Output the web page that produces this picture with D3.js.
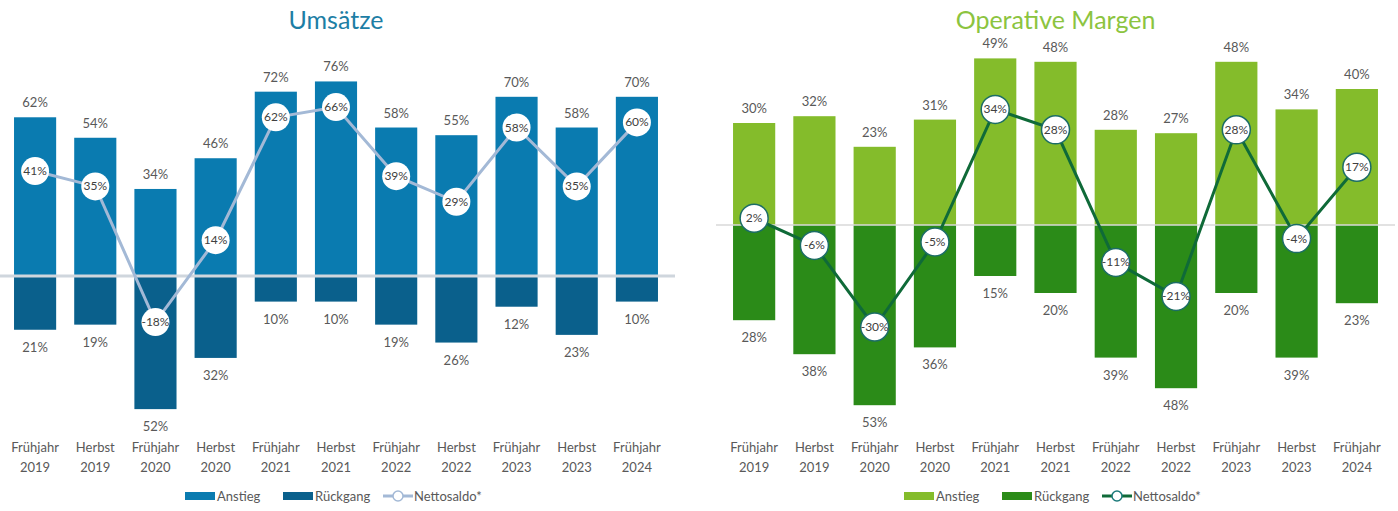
<!DOCTYPE html>
<html>
<head>
<meta charset="utf-8">
<script src="https://cdn.jsdelivr.net/npm/d3@7"></script>
<style>
  body { margin: 0; background: #fff; }
  svg { display: block; font-family: Lato, "Noto Sans", sans-serif; }
</style>
</head>
<body>
<svg id="chart" width="1398" height="511"></svg>
<script>
// periods shown on both charts
var periods = ["Frühjahr 2019", "Herbst 2019", "Frühjahr 2020", "Herbst 2020", "Frühjahr 2021",
  "Herbst 2021", "Frühjahr 2022", "Herbst 2022", "Frühjahr 2023", "Herbst 2023", "Frühjahr 2024"];

// Umsätze
var umsAnstieg = [62, 54, 34, 46, 72, 76, 58, 55, 70, 58, 70];
var umsRueckgang = [21, 19, 52, 32, 10, 10, 19, 26, 12, 23, 10];
var umsSaldo = [41, 35, -18, 14, 62, 66, 39, 29, 58, 35, 60];

// Operative Margen
var marAnstieg = [30, 32, 23, 31, 49, 48, 28, 27, 48, 34, 40];
var marRueckgang = [28, 38, 53, 36, 15, 20, 39, 48, 20, 39, 23];
var marSaldo = [2, -6, -30, -5, 34, 28, -11, -21, 28, -4, 17];

var legendLabels = ["Anstieg", "Rückgang", "Nettosaldo*"];

var svg = d3.select("#chart");

function drawChart(cfg) {
    var g = svg.append("g");

    var x = d3.scaleBand()
        .domain(periods)
        .range([cfg.left, cfg.right])
        .paddingInner(0.3)
        .paddingOuter(0.15);

    var y = d3.scaleLinear()
        .domain([-cfg.maxNeg, cfg.maxPos])
        .range([cfg.zeroY + cfg.pxPer * cfg.maxNeg, cfg.zeroY - cfg.pxPer * cfg.maxPos]);

    // title
    g.append("text")
        .attr("x", (cfg.left + cfg.right) / 2)
        .attr("y", 29)
        .attr("text-anchor", "middle")
        .style("font-size", "25px")
        .style("fill", cfg.titleColor)
        .text(cfg.title);

    // positive bars
    g.selectAll(".pos").data(cfg.up).enter().append("rect")
        .attr("x", function(d, i) { return x(periods[i]); })
        .attr("y", function(d) { return y(d); })
        .attr("width", x.bandwidth())
        .attr("height", function(d) { return y(0) - y(d); })
        .style("fill", cfg.upColor);

    // negative bars
    g.selectAll(".neg").data(cfg.down).enter().append("rect")
        .attr("x", function(d, i) { return x(periods[i]); })
        .attr("y", y(0))
        .attr("width", x.bandwidth())
        .attr("height", function(d) { return y(-d) - y(0); })
        .style("fill", cfg.downColor);

    // zero line
    g.append("line")
        .attr("x1", cfg.left - 8).attr("x2", cfg.right + 8)
        .attr("y1", y(0)).attr("y2", y(0))
        .style("stroke", cfg.zeroColor)
        .style("stroke-width", cfg.zeroWidth);

    var cx = function(d, i) { return x(periods[i]) + x.bandwidth() / 2; };

    // value labels
    g.selectAll(".upl").data(cfg.up).enter().append("text")
        .attr("x", cx)
        .attr("y", function(d) { return y(d) - 10; })
        .attr("text-anchor", "middle")
        .style("font-size", "13px")
        .style("fill", "#595959")
        .text(function(d) { return d + "%"; });

    g.selectAll(".dnl").data(cfg.down).enter().append("text")
        .attr("x", cx)
        .attr("y", function(d) { return y(-d) + 22; })
        .attr("text-anchor", "middle")
        .style("font-size", "13px")
        .style("fill", "#595959")
        .text(function(d) { return d + "%"; });

    // net balance line
    var line = d3.line()
        .x(function(d, i) { return cx(d, i); })
        .y(function(d) { return y(d); });

    g.append("path")
        .datum(cfg.net)
        .attr("d", line)
        .style("fill", "none")
        .style("stroke", cfg.lineColor)
        .style("stroke-width", 3);

    g.selectAll(".dot").data(cfg.net).enter().append("circle")
        .attr("cx", cx)
        .attr("cy", function(d) { return y(d); })
        .attr("r", 14)
        .style("fill", "#fff")
        .style("stroke", cfg.dotStroke)
        .style("stroke-width", cfg.dotWidth);

    g.selectAll(".dotl").data(cfg.net).enter().append("text")
        .attr("x", cx)
        .attr("y", function(d) { return y(d) + 4; })
        .attr("text-anchor", "middle")
        .style("font-size", "12px")
        .style("fill", "#404040")
        .text(function(d) { return d + "%"; });

    // category labels
    var cat = g.selectAll(".cat").data(periods).enter().append("text")
        .attr("text-anchor", "middle")
        .style("font-size", "13px")
        .style("fill", "#595959");
    cat.append("tspan")
        .attr("x", function(d) { return x(d) + x.bandwidth() / 2; })
        .attr("y", 452)
        .text(function(d) { return d.split(" ")[0]; });
    cat.append("tspan")
        .attr("x", function(d) { return x(d) + x.bandwidth() / 2; })
        .attr("y", 472)
        .text(function(d) { return d.split(" ")[1]; });

    // legend
    var lg = g.append("g").attr("transform", "translate(" + cfg.legendX + ",497)");
    lg.append("rect").attr("x", 0).attr("y", -5).attr("width", 30).attr("height", 8).style("fill", cfg.upColor);
    lg.append("text").attr("x", 32).attr("y", 4).style("font-size", "13px").style("fill", "#595959").text(legendLabels[0]);
    lg.append("rect").attr("x", 98).attr("y", -5).attr("width", 30).attr("height", 8).style("fill", cfg.downColor);
    lg.append("text").attr("x", 130).attr("y", 4).style("font-size", "13px").style("fill", "#595959").text(legendLabels[1]);
    lg.append("line").attr("x1", 198).attr("x2", 228).attr("y1", -1).attr("y2", -1)
        .style("stroke", cfg.lineColor).style("stroke-width", 3);
    lg.append("circle").attr("cx", 213).attr("cy", -1).attr("r", 5)
        .style("fill", "#fff").style("stroke", cfg.legendDot).style("stroke-width", 1.5);
    lg.append("text").attr("x", 229).attr("y", 4).style("font-size", "13px").style("fill", "#595959").text(legendLabels[2]);
}

drawChart({
    title: "Umsätze", titleColor: "#1d7ea5",
    up: umsAnstieg, down: umsRueckgang, net: umsSaldo,
    left: 5, right: 667, zeroY: 276, pxPer: 2.56, maxPos: 80, maxNeg: 55,
    upColor: "#0a7bb0", downColor: "#0a608c",
    zeroColor: "#cfd6dd", zeroWidth: 3,
    lineColor: "#a3b9d6", dotStroke: "#ffffff", dotWidth: 0, legendDot: "#a3b9d6",
    legendX: 185
});

drawChart({
    title: "Operative Margen", titleColor: "#8cc43f",
    up: marAnstieg, down: marRueckgang, net: marSaldo,
    left: 724, right: 1387, zeroY: 225, pxPer: 3.4, maxPos: 55, maxNeg: 55,
    upColor: "#84bc2b", downColor: "#2b8b18",
    zeroColor: "#d9d9d9", zeroWidth: 1.5,
    lineColor: "#0f6a38", dotStroke: "#1c6d66", dotWidth: 1.5, legendDot: "#1c7a7a",
    legendX: 904
});
</script>
</body>
</html>
